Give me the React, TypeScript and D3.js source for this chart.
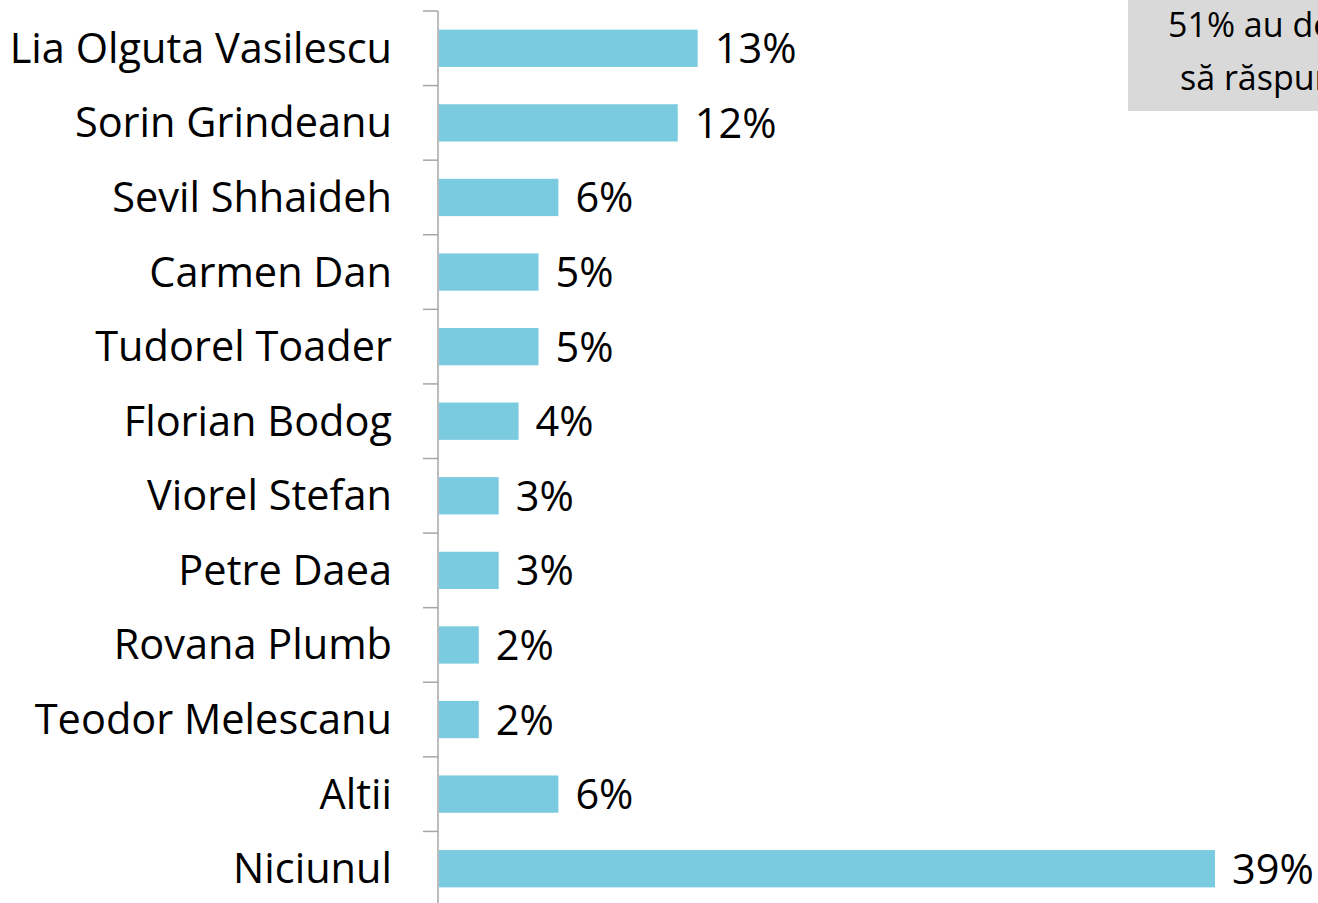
import React from "react";
import * as d3 from "d3";

const categories = [
  "Lia Olguta Vasilescu",
  "Sorin Grindeanu",
  "Sevil Shhaideh",
  "Carmen Dan",
  "Tudorel Toader",
  "Florian Bodog",
  "Viorel Stefan",
  "Petre Daea",
  "Rovana Plumb",
  "Teodor Melescanu",
  "Altii",
  "Niciunul",
];
const values = [13, 12, 6, 5, 5, 4, 3, 3, 2, 2, 6, 39];
const noteLines = ["51% au declinat", "să răspundă"];

const W = 1318;
const H = 903;
const FONT = "'Open Sans', 'Noto Sans', sans-serif";

export default function App() {
  const x = d3.scaleLinear().domain([0, 39]).range([439, 1215]);
  const y = d3
    .scaleBand<string>()
    .domain(categories)
    .range([11, 906])
    .paddingInner(0.5)
    .paddingOuter(0.25);
  const step = y.step();
  const gap = (step - y.bandwidth()) / 2;

  return (
    <svg
      width={W}
      height={H}
      style={{ position: "absolute", left: 0, top: 0, background: "#fff" }}
    >
      {/* note box */}
      <rect x={1128} y={-5} width={320} height={116} fill="#d9d9d9" />
      {noteLines.map((t, i) => (
        <text
          key={t}
          x={i === 0 ? 1168 : 1180}
          y={37 + i * 53}
          fontFamily={FONT}
          fontSize={34}
          fill="#000"
        >
          {t}
        </text>
      ))}

      {/* bars */}
      {categories.map((c, i) => (
        <rect
          key={c}
          x={x(0)}
          y={y(c) as number}
          width={x(values[i]) - x(0)}
          height={y.bandwidth()}
          fill="#7acbdf"
        />
      ))}

      {/* axis */}
      <line x1={438} x2={438} y1={11} y2={H + 5} stroke="#a6a6a6" strokeWidth={1.5} />
      {categories.map((c) => {
        const ty = (y(c) as number) - gap;
        return (
          <line key={"t" + c} x1={423} x2={438} y1={ty} y2={ty} stroke="#a6a6a6" strokeWidth={1.5} />
        );
      })}

      {/* category labels */}
      {categories.map((c) => (
        <text
          key={"l" + c}
          x={392}
          y={(y(c) as number) + y.bandwidth() / 2 + 14.5}
          textAnchor="end"
          fontFamily={FONT}
          fontSize={41.5}
          fill="#000"
        >
          {c}
        </text>
      ))}

      {/* value labels */}
      {categories.map((c, i) => (
        <text
          key={"v" + c}
          x={x(values[i]) + 17}
          y={(y(c) as number) + y.bandwidth() / 2 + 15}
          fontFamily={FONT}
          fontSize={41.5}
          fill="#000"
        >
          {values[i]}%
        </text>
      ))}
    </svg>
  );
}
